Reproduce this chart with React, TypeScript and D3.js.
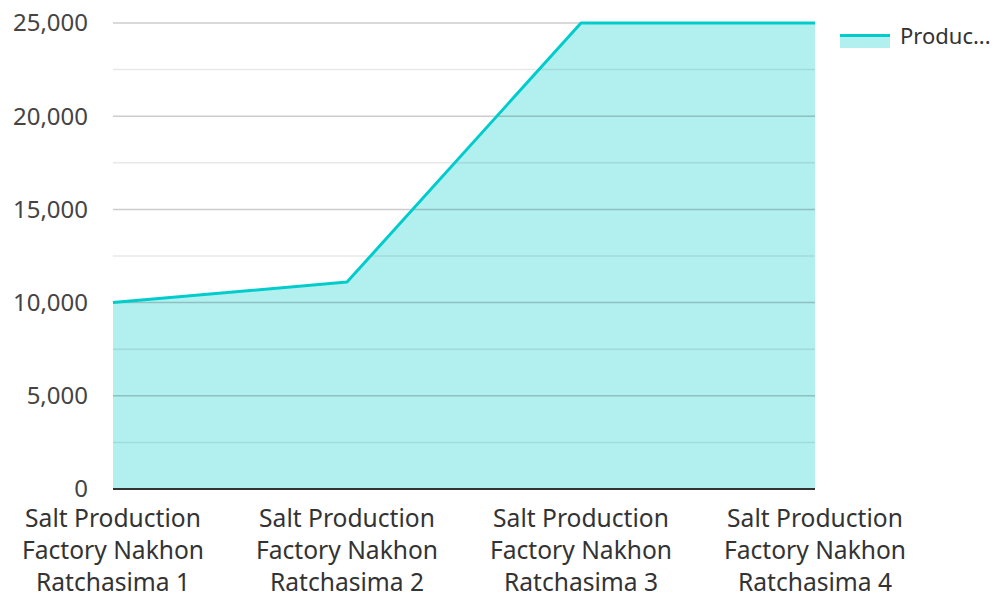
import * as d3 from "d3";
import { useEffect, useRef } from "react";

const categories = [
  "Salt Production Factory Nakhon Ratchasima 1",
  "Salt Production Factory Nakhon Ratchasima 2",
  "Salt Production Factory Nakhon Ratchasima 3",
  "Salt Production Factory Nakhon Ratchasima 4",
];
const production = [10000, 11100, 25000, 25000];
const categoryLines = [
  ["Salt Production", "Factory Nakhon", "Ratchasima 1"],
  ["Salt Production", "Factory Nakhon", "Ratchasima 2"],
  ["Salt Production", "Factory Nakhon", "Ratchasima 3"],
  ["Salt Production", "Factory Nakhon", "Ratchasima 4"],
];
const yTicks = [0, 5000, 10000, 15000, 20000, 25000];
const minorTicks = [2500, 7500, 12500, 17500, 22500];
const legendLabel = "Produc...";

const App = () => {
  const ref = useRef<SVGSVGElement | null>(null);

  useEffect(() => {
    if (!ref.current) return;
    const svg = d3.select(ref.current);
    svg.selectAll("*").remove();
    const width = 1002;
    const height = 594;
    const margin = { top: 23, right: 187, bottom: 105, left: 113 };
    const innerWidth = width - margin.left - margin.right;
    const innerHeight = height - margin.top - margin.bottom;
    const font = "'Noto Sans', 'Open Sans', sans-serif";

    const x = d3.scalePoint<string>().domain(categories).range([0, innerWidth]);
    const y = d3.scaleLinear().domain([0, 25000]).range([innerHeight, 0]);

    const g = svg.append("g").attr("transform", `translate(${margin.left},${margin.top})`);

    const data = categories.map((c, i) => ({ c, v: production[i] }));

    g.append("path")
      .datum(data)
      .attr("fill", "#00cccc")
      .attr("fill-opacity", 0.3)
      .attr(
        "d",
        d3
          .area<{ c: string; v: number }>()
          .x((d) => x(d.c)!)
          .y0(innerHeight)
          .y1((d) => y(d.v))
      );

    g.append("g")
      .selectAll("line")
      .data(minorTicks)
      .join("line")
      .attr("x1", 0)
      .attr("x2", innerWidth)
      .attr("y1", (d) => y(d))
      .attr("y2", (d) => y(d))
      .attr("stroke", "#000")
      .attr("stroke-opacity", 0.09)
      .attr("stroke-width", 1.5);

    g.append("g")
      .selectAll("line")
      .data(yTicks.filter((t) => t > 0))
      .join("line")
      .attr("x1", 0)
      .attr("x2", innerWidth)
      .attr("y1", (d) => y(d))
      .attr("y2", (d) => y(d))
      .attr("stroke", "#000")
      .attr("stroke-opacity", 0.2)
      .attr("stroke-width", 1.5);

    g.append("path")
      .datum(data)
      .attr("fill", "none")
      .attr("stroke", "#00cccc")
      .attr("stroke-width", 3)
      .attr("stroke-linejoin", "round")
      .attr(
        "d",
        d3
          .line<{ c: string; v: number }>()
          .x((d) => x(d.c)!)
          .y((d) => y(d.v))
      );

    g.append("line")
      .attr("x1", 0)
      .attr("x2", innerWidth)
      .attr("y1", innerHeight)
      .attr("y2", innerHeight)
      .attr("stroke", "#333")
      .attr("stroke-width", 2);

    g.append("g")
      .selectAll("text")
      .data(yTicks)
      .join("text")
      .attr("x", -25)
      .attr("y", (d) => y(d))
      .attr("dy", "0.35em")
      .attr("text-anchor", "end")
      .attr("font-family", font)
      .attr("font-size", 24)
      .attr("fill", "#444")
      .text((d) => d3.format(",")(d));

    const xl = g
      .append("g")
      .selectAll("text")
      .data(categories)
      .join("text")
      .attr("x", (d) => x(d)!)
      .attr("y", innerHeight + 38)
      .attr("text-anchor", "middle")
      .attr("font-family", font)
      .attr("font-size", 24.6)
      .attr("fill", "#333");
    xl.each(function (d, i) {
      d3.select(this)
        .selectAll("tspan")
        .data(categoryLines[i])
        .join("tspan")
        .attr("x", x(d)!)
        .attr("dy", (_, j) => (j === 0 ? 0 : 32))
        .text((t) => t);
    });

    const legend = svg.append("g").attr("transform", "translate(840,34)");
    legend
      .append("rect")
      .attr("x", 0)
      .attr("y", 0)
      .attr("width", 50)
      .attr("height", 14)
      .attr("fill", "#00cccc")
      .attr("fill-opacity", 0.3);
    legend
      .append("line")
      .attr("x1", 0)
      .attr("x2", 50)
      .attr("y1", 1.5)
      .attr("y2", 1.5)
      .attr("stroke", "#00cccc")
      .attr("stroke-width", 3);
    legend
      .append("text")
      .attr("x", 60)
      .attr("y", 2)
      .attr("dy", "0.35em")
      .attr("font-family", font)
      .attr("font-size", 22)
      .attr("fill", "#333")
      .text(legendLabel);
  }, []);

  return (
    <svg
      ref={ref}
      width={1002}
      height={594}
      style={{ position: "absolute", left: 0, top: 0 }}
    ></svg>
  );
};

export default App;
